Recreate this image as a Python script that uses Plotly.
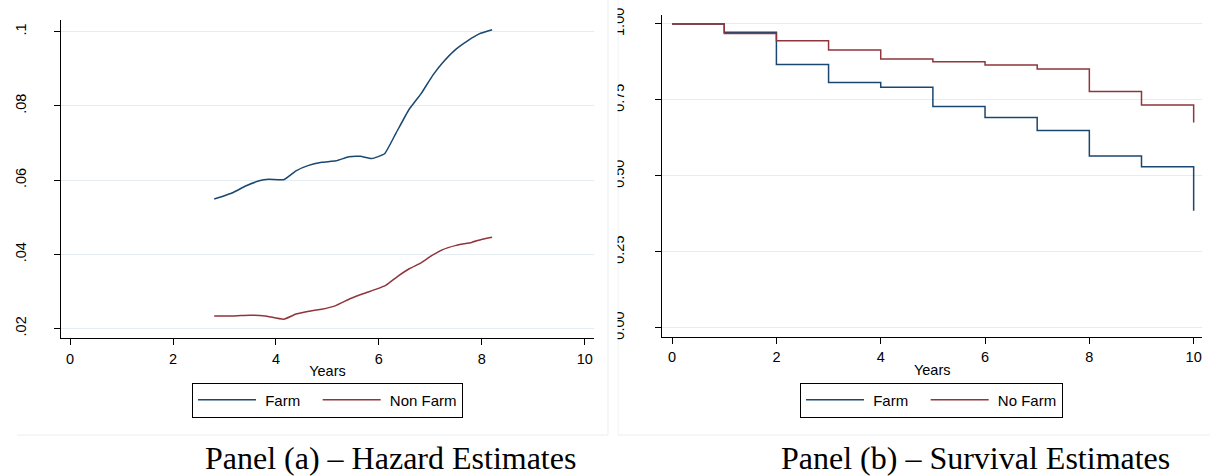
import plotly.graph_objects as go

# ---------------- data ----------------
haz_years_farm = [2.80, 3.16, 3.41, 3.675, 3.86, 4.15, 4.39, 4.62, 4.89, 5.17, 5.42, 5.64, 5.86,
                  6.11, 6.33, 6.58, 6.82, 7.05, 7.23, 7.50, 7.73, 7.95, 8.20]
haz_farm = [.0549, .0566, .0584, .0598, .0602, .0601, .0625, .0639, .0648, .0652, .0663, .0664, .0658,
            .0671, .0726, .0789, .0833, .0883, .0915, .0953, .0976, .0994, .1005]
haz_years_nonfarm = [2.80, 3.18, 3.49, 3.79, 4.15, 4.39, 4.70, 4.89, 5.15, 5.45, 5.72, 5.95, 6.14,
                     6.36, 6.59, 6.82, 7.01, 7.23, 7.50, 7.80, 7.99, 8.20]
haz_nonfarm = [.0234, .0234, .0236, .0234, .0225, .0239, .0248, .0252, .0261, .0281, .0295, .0306, .0317,
               .0340, .0361, .0377, .0395, .0412, .0424, .0432, .0440, .0446]

surv_years = [0, 1, 2, 3, 4, 5, 6, 7, 8, 9, 10]
surv_farm = [1.00, .973, .867, .807, .792, .728, .692, .649, .565, .530, .385]
surv_nofarm = [1.00, .969, .945, .914, .885, .876, .865, .852, .778, .733, .676]

x_ticks = [0, 2, 4, 6, 8, 10]
haz_ticks = [.02, .04, .06, .08, .1]
haz_ticklabels = [".02", ".04", ".06", ".08", ".1"]
surv_ticks = [0, .25, .5, .75, 1]
surv_ticklabels = ["0.00", "0.25", "0.50", "0.75", "1.00"]

panel_titles = ["Panel (a) \u2013 Hazard Estimates", "Panel (b) \u2013 Survival Estimates"]

BLUE = "#1a476f"
RED = "#90353b"
GRID = "#e4ecef"
W, H = 1210, 476
FONT = "Liberation Sans, Arial, sans-serif"
SERIF = "Liberation Serif, Times New Roman, serif"
NB = "\u00a0"

fig = go.Figure()
fig.add_trace(go.Scatter(x=haz_years_farm, y=haz_farm, mode="lines", name=NB + "Farm" + NB * 3,
                         line=dict(color=BLUE, width=1.5, shape="spline", smoothing=0.4),
                         xaxis="x", yaxis="y", legend="legend"))
fig.add_trace(go.Scatter(x=haz_years_nonfarm, y=haz_nonfarm, mode="lines", name=NB + "Non Farm",
                         line=dict(color=RED, width=1.5, shape="spline", smoothing=0.4),
                         xaxis="x", yaxis="y", legend="legend"))
fig.add_trace(go.Scatter(x=surv_years, y=surv_farm, mode="lines", name=NB + "Farm" + NB * 3,
                         line=dict(color=BLUE, width=1.5, shape="hv"),
                         xaxis="x2", yaxis="y2", legend="legend2"))
fig.add_trace(go.Scatter(x=surv_years, y=surv_nofarm, mode="lines", name=NB + "No Farm",
                         line=dict(color=RED, width=1.5, shape="hv"),
                         xaxis="x2", yaxis="y2", legend="legend2"))

def px_x(p):
    return p / W

def px_y(p):
    return 1 - p / H

axis_common = dict(showline=True, linecolor="black", linewidth=1.2, ticks="outside",
                   ticklen=6, tickwidth=1, tickcolor="black", zeroline=False, automargin=False,
                   tickfont=dict(family=FONT, size=14.5, color="black"))

legend_common = dict(orientation="h", bgcolor="white", bordercolor="black", borderwidth=1,
                     font=dict(family=FONT, size=15, color="black"),
                     xanchor="left", yanchor="middle", itemwidth=58, traceorder="normal")

title_font = dict(family=FONT, size=14.5, color="black")

fig.update_layout(
    width=W, height=H,
    margin=dict(l=0, r=0, t=0, b=0, autoexpand=False),
    paper_bgcolor="white", plot_bgcolor="white",
    xaxis=dict(domain=[px_x(61), px_x(594)], range=[-0.177, 10.18], anchor="y",
               tickvals=x_ticks, showgrid=False, ticklabelstandoff=1,
               title=dict(text="Years", font=title_font, standoff=0),
               **axis_common),
    yaxis=dict(domain=[px_y(338), px_y(20)], range=[.01744, .10315], anchor="x",
               tickvals=haz_ticks, ticktext=haz_ticklabels, tickangle=-90,
               showgrid=True, gridcolor=GRID, gridwidth=1, ticklabelstandoff=22,
               **axis_common),
    xaxis2=dict(domain=[px_x(662.4), px_x(1202)], range=[-0.186, 10.16], anchor="y2",
                tickvals=x_ticks, showgrid=False, ticklabelstandoff=1,
                title=dict(text="Years", font=title_font, standoff=0),
                **axis_common),
    yaxis2=dict(domain=[px_y(336.7), px_y(15)], range=[-0.0296, 1.0296], anchor="x2",
                tickvals=surv_ticks, ticktext=surv_ticklabels, tickangle=-90,
                showgrid=True, gridcolor=GRID, gridwidth=1, ticklabelstandoff=26,
                **axis_common),
    legend=dict(x=px_x(192), y=px_y(400), **legend_common),
    legend2=dict(x=px_x(800), y=px_y(400), **legend_common),
    showlegend=True,
)

# panel frames / clip of the right-hand labels
FRAME = "#e9eef0"
fig.add_shape(type="rect", xref="paper", yref="paper", x0=px_x(596), x1=px_x(617.5), y0=0, y1=1,
              fillcolor="white", line=dict(width=0), layer="above")
fig.add_shape(type="line", xref="paper", yref="paper", x0=px_x(17), x1=px_x(608), y0=px_y(435), y1=px_y(435),
              line=dict(color=FRAME, width=1), layer="above")
fig.add_shape(type="line", xref="paper", yref="paper", x0=px_x(608), x1=px_x(608), y0=px_y(435), y1=1,
              line=dict(color=FRAME, width=1), layer="above")
fig.add_shape(type="line", xref="paper", yref="paper", x0=px_x(618), x1=px_x(618), y0=px_y(435), y1=1,
              line=dict(color=FRAME, width=1), layer="below")
fig.add_shape(type="line", xref="paper", yref="paper", x0=px_x(618), x1=1, y0=px_y(435), y1=px_y(435),
              line=dict(color=FRAME, width=1), layer="below")

for title, cx in zip(panel_titles, [390, 975]):
    fig.add_annotation(text=title, xref="paper", yref="paper", x=px_x(cx), y=0,
                       xanchor="center", yanchor="bottom", showarrow=False, yshift=-2,
                       font=dict(family=SERIF, size=32, color="black"))

fig.write_html("out.html")
